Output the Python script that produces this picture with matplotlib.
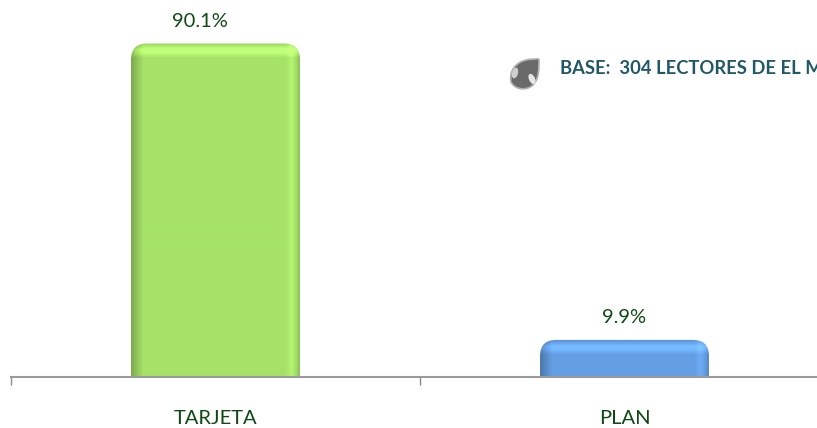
#!/usr/bin/env python3
import numpy as np
import matplotlib
matplotlib.use("Agg")
import matplotlib.pyplot as plt
from matplotlib.patches import FancyBboxPatch, PathPatch, Ellipse
from matplotlib.path import Path
from matplotlib.transforms import IdentityTransform

categories = ["TARJETA", "PLAN"]
values = [90.1, 9.9]
value_labels = ["90.1%", "9.9%"]
bar_colors = ["#A6E268", "#659FE4"]
note = "BASE:  304 LECTORES DE EL M"

W, H = 817, 428
plt.rcParams["font.family"] = ["Lato", "DejaVu Sans"]
TEXT = "#0F4A14"
label_shift = [-11, 0]  # first value label sits left of its bar centre (points)


def bevel(w, h, base):
    # shading factor per pixel: dark left edge, light right band, light top band
    xs = np.arange(w)[None, :]
    ys = np.arange(h)[:, None]
    f = np.ones((h, w))
    f = f * np.interp(xs, [0, 3, 12], [0.74, 0.82, 1.0])
    f = f * np.interp(w - 1 - xs, [0, 3, 8, 14], [0.85, 0.97, 1.08, 1.0])
    f = f * np.interp(ys, [0, 3, 7, 10, 15], [0.90, 1.02, 1.18, 1.15, 1.0])
    rgb = np.array(matplotlib.colors.to_rgb(base))
    return np.clip(f[:, :, None] * rgb, 0, 1)


def main():
    fig = plt.figure(figsize=(W / 100, H / 100), dpi=100)
    ax = fig.add_axes([11 / W, (H - 376.5) / H, 818 / W, 369.6 / H])
    ax.set_xlim(-0.5, 1.5)
    ax.set_ylim(0, 100)

    bars = ax.bar(range(len(values)), values, width=0.413, color="none")
    for rect, col, lab, dx in zip(bars, bar_colors, value_labels, label_shift):
        x0, y0 = ax.transData.transform((rect.get_x(), 0))
        x1, y1 = ax.transData.transform((rect.get_x() + rect.get_width(), rect.get_height()))
        r = 16
        clip = FancyBboxPatch((x0 + r, y0 - 40), x1 - x0 - 2 * r, y1 - y0 + 40 - r,
                              boxstyle=f"round,pad={r},rounding_size={r}",
                              transform=IdentityTransform(), fc="none", ec="none")
        fig.add_artist(clip)
        w, h = int(round(x1 - x0)), int(round(y1 - y0))
        im = ax.imshow(bevel(w, h, col), extent=(x0, x1, y0, y1), origin="upper",
                       transform=IdentityTransform(), interpolation="bilinear",
                       aspect="auto", zorder=2)
        im.set_clip_path(clip)
        ax.annotate(lab, (rect.get_x() + rect.get_width() / 2, rect.get_height()),
                    xytext=(dx, 16), textcoords="offset points", ha="center", va="center",
                    fontsize=14.5, color=TEXT)
    ax.set_xlim(-0.5, 1.5)
    ax.set_ylim(0, 100)

    for s in ["top", "left", "right"]:
        ax.spines[s].set_visible(False)
    ax.spines["bottom"].set_color("#9A9A9A")
    ax.spines["bottom"].set_linewidth(1.5)
    ax.spines["bottom"].set_zorder(3)
    ax.set_yticks([])
    ax.set_xticks([-0.5, 0.5, 1.5])
    ax.set_xticklabels([])
    ax.tick_params(axis="x", which="major", length=6, width=1, color="#8A8A8A")
    ax.set_xticks([0, 1], minor=True)
    ax.set_xticklabels(categories, minor=True, fontsize=14.5, color=TEXT)
    ax.tick_params(axis="x", which="minor", length=0, pad=24)

    # note with its small drop marker
    fig.text(560 / W, (H - 69) / H, note, fontsize=13.2, fontweight="bold",
             color="#215868", va="center", ha="left")
    cx, cy = 524, H - 74
    verts = [(cx + 15, cy + 15), (cx + 15, cy + 15), (cx + 2, cy + 16), (cx - 5, cy + 11),
             (cx - 13, cy + 6), (cx - 14, cy - 2), (cx - 13, cy - 8),
             (cx - 9, cy - 16), (cx + 3, cy - 17), (cx + 9, cy - 11),
             (cx + 15, cy - 5), (cx + 15, cy + 5), (cx + 15, cy + 15)]
    codes = [Path.MOVETO] + [Path.CURVE4] * 12
    fig.add_artist(PathPatch(Path(verts, codes), fc="#6A6A6A", ec="#B0B0B0", lw=1.2,
                             transform=IdentityTransform()))
    fig.add_artist(Ellipse((cx - 9, cy + 1), 6, 11, angle=-15, fc="#CFCFCF", ec="none",
                           transform=IdentityTransform()))
    fig.add_artist(Ellipse((cx + 8, cy - 5), 6, 11, angle=25, fc="#E6E6E6", ec="none",
                           transform=IdentityTransform()))

    fig.savefig("out.png", dpi=100)
    plt.close(fig)


if __name__ == "__main__":
    main()
